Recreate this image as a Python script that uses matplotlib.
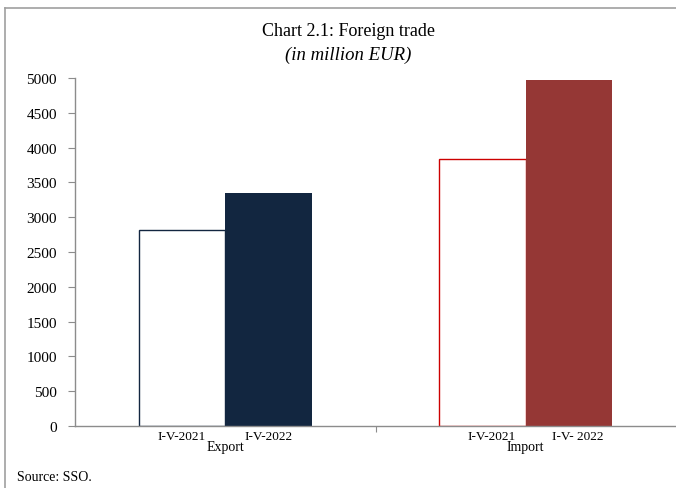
import numpy as np
import matplotlib.pyplot as plt
from matplotlib.lines import Line2D

# data
groups = ['Export', 'Import']
periods = ['I-V-2021', 'I-V-2022']
period_labels_import = ['I-V-2021', 'I-V- 2022']
export_vals = [2815, 3348]
import_vals = [3838, 4975]

plt.rcParams['font.family'] = ['Liberation Serif', 'DejaVu Serif']

fig = plt.figure(figsize=(6.76, 4.89), dpi=100)
ax = fig.add_axes([75/676, 1-427/489, 601/676, 348/489])

centers = np.array([0.5, 1.5])
w = 0.288
navy = '#122640'
dred = '#953735'
red = '#CC0000'

ax.bar(centers[0] - w/2, export_vals[0], w, facecolor='white', edgecolor=navy, linewidth=1)
ax.bar(centers[0] + w/2, export_vals[1], w, facecolor=navy, edgecolor=navy, linewidth=0)
ax.bar(centers[1] - w/2, import_vals[0], w, facecolor='white', edgecolor=red, linewidth=1)
ax.bar(centers[1] + w/2, import_vals[1], w, facecolor=dred, edgecolor=dred, linewidth=0)

ax.set_xlim(0, 2)
ax.set_ylim(0, 5000)
ax.set_yticks(np.arange(0, 5001, 500))
for s in ['top', 'right']:
    ax.spines[s].set_visible(False)
for s in ['left', 'bottom']:
    ax.spines[s].set_color('#8c8c8c')
    ax.spines[s].set_linewidth(1)
ax.tick_params(axis='y', direction='out', length=5, color='#8c8c8c', labelsize=11, pad=8)
ax.set_xticks([1.0])
ax.set_xticklabels([''])
ax.tick_params(axis='x', direction='out', length=4, color='#8c8c8c')

# category labels (import period labels sit a bit right of the bars)
for c, labs, g, off in [(centers[0], periods, groups[0], 0.0),
                        (centers[1], period_labels_import, groups[1], 0.03)]:
    ax.text(c - w/2 + off, -55, labs[0], ha='center', va='top', fontsize=9.5)
    ax.text(c + w/2 + off, -55, labs[1], ha='center', va='top', fontsize=9.5)
    ax.text(c, -200, g, ha='center', va='top', fontsize=10)

fig.text(348/676, 1-31/489, 'Chart 2.1: Foreign trade', ha='center', va='center', fontsize=13)
fig.text(348/676, 1-55/489, '(in million EUR)', ha='center', va='center', fontsize=13.5, style='italic')
fig.text(17/676, 1-478/489, 'Source: SSO.', ha='left', va='center', fontsize=10)

# frame
fig.add_artist(Line2D([5/676, 1], [1-9/489, 1-9/489], color='#a0a0a0', lw=1.2, transform=fig.transFigure))
fig.add_artist(Line2D([5/676, 5/676], [0, 1-9/489], color='#a0a0a0', lw=1.2, transform=fig.transFigure))

fig.savefig('out.png', dpi=100)
